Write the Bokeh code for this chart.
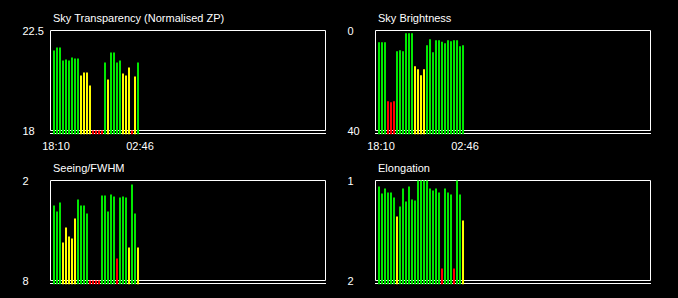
from bokeh.plotting import figure
from bokeh.models import Range1d, Label
from bokeh.layouts import column, row
from bokeh.embed import file_html
from bokeh.resources import INLINE

# ---------------- data ----------------
x_tick_labels = ["18:10", "02:46"]
x_tick_index = [0, 28]

transparency = [21.60, 21.74, 21.74, 21.15, 21.20, 21.15, 21.28, 21.24, 21.24,
                20.48, 20.61, 20.61, 20.03, 18.0, 18.0, 18.0, 18.0,
                21.06, 20.30, 21.51, 21.51, 21.06, 21.15, 20.57, 20.48, 20.84,
                18.0, 20.43, 21.06]
transparency_status = list("ggggggggg" "yyyy" "rrrr" "g" "y" "gggg" "yyy" "r" "y" "g")
transparency_ticks = ["22.5", "18"]
transparency_range = [22.5, 18.0]

brightness = [4.7, 4.7, 4.7, 28.3, 28.7, 28.3, 8.3, 7.9, 8.3, 1.1, 1.1, 1.1,
              14.3, 15.5, 17.9, 15.5, 5.9, 3.5, 8.7, 3.9, 3.9, 4.5, 5.1,
              3.9, 4.3, 3.9, 3.9, 6.3, 5.9]
brightness_status = list("ggg" "rrr" "gggggg" "yyyy" "ggggggggggggg")
brightness_ticks = ["0", "40"]
brightness_range = [0.0, 40.0]

seeing = [3.50, 3.86, 3.32, 5.72, 4.82, 5.36, 5.48, 4.28, 3.14, 3.50, 3.50, 3.98,
          8.0, 8.0, 8.0, 8.0, 2.90, 2.90, 3.86, 2.84, 2.96, 6.68, 3.02, 2.96,
          3.02, 6.02, 2.24, 3.98, 6.02]
seeing_status = list("ggg" "yyyyy" "gggg" "rrrr" "ggggg" "r" "ggg" "y" "gg" "y")
seeing_ticks = ["2", "8"]
seeing_range = [2.0, 8.0]

elongation = [1.06, 1.13, 1.08, 1.12, 1.12, 1.17, 1.36, 1.26, 1.08, 1.21, 1.06,
              1.19, 1.20, 1.00, 1.00, 1.00, 1.00, 1.08, 1.10, 1.08, 1.12, 1.88,
              1.08, 1.12, 1.14, 1.88, 1.00, 1.14, 1.40]
elongation_status = list("gggggg" "y" "gggggggggggggg" "r" "ggg" "r" "gg" "y")
elongation_ticks = ["1", "2"]
elongation_range = [1.0, 2.0]

palette = {"g": "#00E800", "y": "#FFFF00", "r": "#FF0000"}

# ---------------- layout constants (pixels) ----------------
COL_W = 339
ROW_H = [150, 148]
FRAME_L = [50.5, 36.5]
FRAME_W = 275
TICK_X = [22, 8]
Y_TOP, Y_BOT, Y_BASE, BAR_FOOT = 30.5, 130.5, 133.5, 134.2
BAR_STEP, BAR_W = 3.0, 2.0
SHIFT = 0.5          # renderer half-pixel offset compensation
FONT = "Liberation Sans"
FSIZE = "11px"


def make_panel(col, r, title, values, status, rng, ticks, show_x):
    W, H = COL_W, ROW_H[r]
    fl = FRAME_L[col]
    fr = fl + FRAME_W
    bar0 = fl + 3.5
    top_val, bot_val = rng

    def px2x(px):
        return (px - bar0) / BAR_STEP

    def py2y(py):
        return top_val + (py - Y_TOP) * (bot_val - top_val) / (Y_BOT - Y_TOP)

    p = figure(width=W, height=H,
               x_range=Range1d(px2x(SHIFT), px2x(W + SHIFT)),
               y_range=Range1d(py2y(H + SHIFT), py2y(SHIFT)),
               output_backend="svg", toolbar_location=None,
               x_axis_location=None, y_axis_location=None,
               min_border=0, background_fill_color="black",
               border_fill_color="black", outline_line_color=None)
    p.grid.grid_line_color = None

    # frame box
    p.quad(left=[px2x(fl)], right=[px2x(fr)], top=[top_val], bottom=[bot_val],
           fill_color=None, line_color="white", line_width=1)
    # base line under the frame
    p.segment(x0=[px2x(fl - 0.5)], x1=[px2x(fr + 0.5)],
              y0=[py2y(Y_BASE)], y1=[py2y(Y_BASE)],
              line_color="white", line_width=1)
    # bars
    xs = list(range(len(values)))
    cols = [palette[s] for s in status]
    p.vbar(x=xs, width=BAR_W / BAR_STEP, bottom=py2y(BAR_FOOT), top=values,
           fill_color=cols, line_color=None)

    # title
    p.add_layout(Label(x=fl + 2, y=H - 17, x_units="screen", y_units="screen",
                       text=title, text_font=FONT, text_font_size=FSIZE,
                       text_color="white", text_align="left",
                       text_baseline="middle"))
    # y tick labels
    for v, t in zip(rng, ticks):
        p.add_layout(Label(x=TICK_X[col], y=v, x_units="screen", y_units="data",
                           text=t, text_font=FONT, text_font_size=FSIZE,
                           text_color="white", text_align="left",
                           text_baseline="middle"))
    # x tick labels
    if show_x:
        for i, t in zip(x_tick_index, x_tick_labels):
            p.add_layout(Label(x=i, y=H - 145, x_units="data", y_units="screen",
                               x_offset=2, text=t, text_font=FONT,
                               text_font_size=FSIZE, text_color="white",
                               text_align="center", text_baseline="middle"))
    return p


p1 = make_panel(0, 0, "Sky Transparency (Normalised ZP)", transparency,
                transparency_status, transparency_range, transparency_ticks, True)
p2 = make_panel(1, 0, "Sky Brightness", brightness, brightness_status,
                brightness_range, brightness_ticks, True)
p3 = make_panel(0, 1, "Seeing/FWHM", seeing, seeing_status, seeing_range,
                seeing_ticks, False)
p4 = make_panel(1, 1, "Elongation", elongation, elongation_status,
                elongation_range, elongation_ticks, False)

layout = column(row(p1, p2, spacing=0), row(p3, p4, spacing=0), spacing=0,
                styles={"background-color": "black"})

open("out.html", "w").write(file_html(layout, INLINE))
